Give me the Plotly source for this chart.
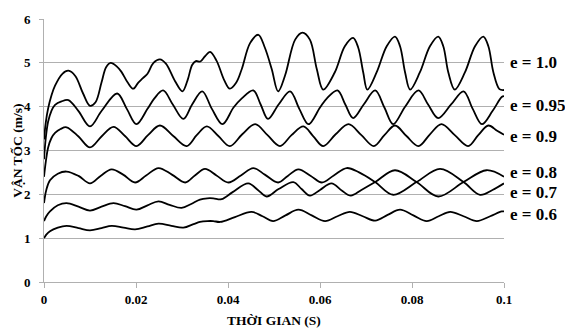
import plotly.graph_objects as go

# ---- data ----
t_e10 = [0, 0.0004, 0.0009, 0.0016, 0.0024, 0.0040, 0.0053, 0.0068, 0.0085, 0.0100, 0.0112, 0.0125, 0.0135, 0.0145,
         0.0158, 0.0168, 0.0182, 0.0194, 0.0205, 0.0215, 0.0225, 0.0238, 0.0252, 0.0265, 0.0285,
         0.0301, 0.0312, 0.0322, 0.0330, 0.0340, 0.0350, 0.0361, 0.0375, 0.0392, 0.0404, 0.0418,
         0.0430, 0.0448, 0.0466, 0.0480, 0.0495, 0.0509, 0.0524, 0.0546, 0.0562, 0.0578, 0.0593,
         0.0607, 0.0632, 0.0654, 0.0672, 0.0683, 0.0694, 0.0703, 0.0723, 0.0745, 0.0763, 0.0774,
         0.0785, 0.0796, 0.0817, 0.0839, 0.0857, 0.0868, 0.0879, 0.0893, 0.0915, 0.0937, 0.0955,
         0.0966, 0.0977, 0.0990, 0.1000]
v_e10 = [3.25, 3.65, 3.96, 4.25, 4.48, 4.75, 4.82, 4.70, 4.30, 4.02, 4.10, 4.55, 4.90, 5.00,
         4.92, 4.80, 4.55, 4.41, 4.55, 4.65, 4.75, 5.00, 5.08, 4.98, 4.58,
         4.35, 4.60, 4.95, 5.04, 5.03, 5.15, 5.25, 5.05, 4.60, 4.41, 4.55,
         4.86, 5.45, 5.64, 5.35, 4.86, 4.35, 4.71, 5.53, 5.69, 5.53, 4.86,
         4.39, 4.78, 5.38, 5.57, 5.35, 4.78, 4.39, 4.78, 5.38, 5.60, 5.38,
         4.78, 4.39, 4.78, 5.38, 5.60, 5.38, 4.78, 4.39, 4.78, 5.38, 5.60,
         5.38, 4.78, 4.40, 4.38]

t_e095 = [0, 0.0004, 0.0009, 0.0016, 0.0024, 0.0038, 0.0053, 0.0075, 0.0100, 0.0125, 0.0159, 0.0180, 0.0201, 0.0225, 0.0240,
          0.0259, 0.0280, 0.0303, 0.0322, 0.0344, 0.0365, 0.0388, 0.0412, 0.0430, 0.0455, 0.0471,
          0.0487, 0.0510, 0.0535, 0.0555, 0.0575, 0.0600, 0.0615, 0.0638, 0.0655, 0.0672, 0.0695,
          0.0720, 0.0740, 0.0759, 0.0785, 0.0814, 0.0835, 0.0857, 0.0885, 0.0912, 0.0932, 0.0952,
          0.0975, 0.0995, 0.1000]
v_e095 = [2.80, 3.30, 3.66, 3.90, 4.04, 4.12, 4.15, 3.90, 3.55, 3.90, 4.30, 3.95, 3.60, 3.95, 4.19,
          4.37, 4.05, 3.72, 4.05, 4.35, 3.95, 3.60, 3.98, 4.19, 4.37, 4.05,
          3.72, 4.05, 4.35, 3.95, 3.60, 3.98, 4.19, 4.37, 4.05, 3.74, 4.05,
          4.37, 3.98, 3.60, 4.00, 4.37, 4.05, 3.74, 4.05, 4.35, 3.95, 3.60,
          3.90, 4.22, 4.24]

t_e09 = [0, 0.0004, 0.0009, 0.0016, 0.0024, 0.0036, 0.0049, 0.0075, 0.0100, 0.0125, 0.0151, 0.0176, 0.0201, 0.0226, 0.0252,
         0.0281, 0.0310, 0.0332, 0.0354, 0.0379, 0.0404, 0.0431, 0.0459, 0.0486, 0.0513, 0.0538,
         0.0564, 0.0585, 0.0607, 0.0634, 0.0662, 0.0690, 0.0717, 0.0740, 0.0763, 0.0788, 0.0814,
         0.0839, 0.0864, 0.0893, 0.0922, 0.0944, 0.0966, 0.0985, 0.1000]
v_e09 = [2.40, 2.75, 3.07, 3.28, 3.40, 3.49, 3.53, 3.32, 3.07, 3.32, 3.54, 3.33, 3.10, 3.35, 3.57,
         3.33, 3.10, 3.35, 3.55, 3.33, 3.10, 3.37, 3.60, 3.35, 3.10, 3.35,
         3.55, 3.33, 3.10, 3.37, 3.60, 3.35, 3.10, 3.35, 3.57, 3.33, 3.10,
         3.37, 3.60, 3.35, 3.10, 3.35, 3.57, 3.45, 3.36]

t_e08 = [0, 0.0005, 0.0013, 0.0030, 0.0049, 0.0075, 0.0100, 0.0123, 0.0147, 0.0172, 0.0198, 0.0222, 0.0249,
         0.0278, 0.0307, 0.0328, 0.0350, 0.0375, 0.0401, 0.0428, 0.0455, 0.0480, 0.0509, 0.0530,
         0.0553, 0.0580, 0.0604, 0.0630, 0.0658, 0.0685, 0.0720, 0.0759, 0.0810, 0.0861, 0.0912,
         0.0948, 0.0975, 0.1000]
v_e08 = [1.80, 2.10, 2.32, 2.47, 2.52, 2.42, 2.25, 2.42, 2.57, 2.45, 2.27, 2.43, 2.60,
         2.45, 2.27, 2.43, 2.58, 2.43, 2.27, 2.43, 2.60, 2.45, 2.27, 2.42,
         2.57, 2.42, 2.27, 2.43, 2.60, 2.50, 2.28, 1.99, 2.28, 2.58, 2.28,
         1.99, 2.10, 2.25]

t_e07 = [0, 0.0005, 0.0013, 0.0030, 0.0049, 0.0075, 0.0100, 0.0125, 0.0151, 0.0176, 0.0201, 0.0225, 0.0249,
         0.0273, 0.0299, 0.0320, 0.0339, 0.0355, 0.0368, 0.0386, 0.0410, 0.0444, 0.0465, 0.0484,
         0.0510, 0.0542, 0.0560, 0.0578, 0.0600, 0.0625, 0.0648, 0.0667, 0.0690, 0.0720, 0.0763,
         0.0810, 0.0857, 0.0912, 0.0962, 0.1000]
v_e07 = [1.39, 1.50, 1.61, 1.75, 1.80, 1.72, 1.63, 1.72, 1.80, 1.73, 1.65, 1.75, 1.84,
         1.76, 1.69, 1.78, 1.88, 1.91, 1.91, 1.89, 2.05, 2.25, 2.10, 1.95,
         2.12, 2.28, 2.12, 1.97, 2.10, 2.25, 2.08, 1.97, 2.10, 2.28, 2.55,
         2.28, 1.95, 2.28, 2.55, 2.40]

t_e06 = [0, 0.0005, 0.0013, 0.0030, 0.0049, 0.0075, 0.0100, 0.0125, 0.0147, 0.0173, 0.0198, 0.0225, 0.0249,
         0.0277, 0.0303, 0.0325, 0.0339, 0.0355, 0.0368, 0.0383, 0.0415, 0.0451, 0.0475, 0.0498,
         0.0525, 0.0553, 0.0582, 0.0611, 0.0638, 0.0665, 0.0693, 0.0720, 0.0747, 0.0774, 0.0803,
         0.0832, 0.0858, 0.0883, 0.0912, 0.0941, 0.0970, 0.0995, 0.1000]
v_e06 = [1.00, 1.08, 1.16, 1.24, 1.28, 1.23, 1.18, 1.23, 1.28, 1.24, 1.20, 1.27, 1.33,
         1.28, 1.24, 1.32, 1.37, 1.39, 1.39, 1.37, 1.48, 1.60, 1.50, 1.39,
         1.52, 1.65, 1.52, 1.39, 1.50, 1.60, 1.50, 1.40, 1.53, 1.65, 1.52,
         1.39, 1.50, 1.60, 1.50, 1.39, 1.50, 1.61, 1.61]

series = [
    (t_e10, v_e10), (t_e095, v_e095), (t_e09, v_e09),
    (t_e08, v_e08), (t_e07, v_e07), (t_e06, v_e06),
]

labels = ["e = 1.0", "e = 0.95", "e = 0.9", "e = 0.8", "e = 0.7", "e = 0.6"]
label_y = [5.0, 4.03, 3.32, 2.50, 2.05, 1.53]   # vertical positions of the labels (data units)

x_ticks = [0, 0.02, 0.04, 0.06, 0.08, 0.1]
x_ticktext = ["0", "0.02", "0.04", "0.06", "0.08", "0.1"]
y_ticks = [0, 1, 2, 3, 4, 5, 6]

# ---- figure ----
SERIF = "Liberation Serif"
GRID = "#b0b0b0"

fig = go.Figure()
for (t, v), name in zip(series, labels):
    fig.add_trace(go.Scatter(x=t, y=v, mode="lines", name=name,
                             line=dict(color="black", width=1.8, shape="spline", smoothing=1.0),
                             showlegend=False, hoverinfo="skip"))

for txt, yv in zip(labels, label_y):
    fig.add_annotation(x=1.0087, xref="paper", y=yv, yref="y", text="<b>" + txt + "</b>",
                       showarrow=False, xanchor="left", yanchor="middle",
                       font=dict(family=SERIF, size=17, color="black"))

fig.add_annotation(x=0.5, xref="paper", y=-0.147, yref="paper", text="<b>THỜI GIAN (S)</b>",
                   showarrow=False, xanchor="center", yanchor="middle",
                   font=dict(family=SERIF, size=13.5, color="black"))
fig.add_annotation(x=-0.058, xref="paper", y=0.5, yref="paper", text="<b>VẬN TỐC (m/s)</b>",
                   textangle=-90, showarrow=False, xanchor="center", yanchor="middle",
                   font=dict(family=SERIF, size=13.5, color="black"))

fig.update_xaxes(range=[0, 0.1], tickvals=x_ticks, ticktext=["<b>%s</b>" % s for s in x_ticktext],
                 showgrid=False, zeroline=False, showline=True, linecolor=GRID, linewidth=1,
                 ticks="outside", ticklen=5, tickcolor=GRID, tickwidth=1,
                 tickfont=dict(family=SERIF, size=13, color="black"))
fig.update_yaxes(range=[0, 6], tickvals=y_ticks, ticktext=["<b>%d</b>" % v for v in y_ticks],
                 showgrid=True, gridcolor=GRID, gridwidth=1, zeroline=False,
                 showline=True, linecolor=GRID, linewidth=1,
                 ticks="outside", ticklen=4, tickcolor=GRID, tickwidth=1,
                 ticklabelstandoff=6,
                 tickfont=dict(family=SERIF, size=13, color="black"))

fig.update_layout(width=565, height=329,
                  margin=dict(l=44, r=61, t=14, b=47),
                  paper_bgcolor="white", plot_bgcolor="white")

fig.write_html("out.html", config={"displayModeBar": False},
               post_script="document.body.style.margin='0px';")
